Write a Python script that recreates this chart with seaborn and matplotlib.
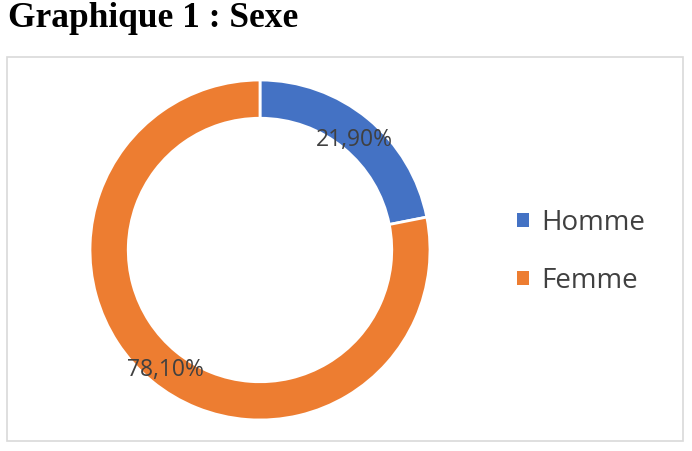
import matplotlib
matplotlib.use("Agg")
import matplotlib.pyplot as plt
import seaborn as sns
import numpy as np
from matplotlib.patches import Rectangle

categories = ["Homme", "Femme"]
values = [21.90, 78.10]
labels = ["21,90%", "78,10%"]
colors = ["#4472C4", "#ED7D31"]

sns.set_theme(style="white")
plt.rcParams['font.family'] = ['Open Sans', 'DejaVu Sans']

W, H = 692, 451
fig = plt.figure(figsize=(W / 100, H / 100), dpi=100)

# chart frame
fig.add_artist(Rectangle((7 / W, 1 - 441 / H), (683 - 7) / W, (441 - 57) / H,
                         transform=fig.transFigure, fill=False,
                         edgecolor="#d9d9d9", linewidth=1.2))

fig.text(8 / W, 1 - 27 / H, "Graphique 1 : Sexe", family="Liberation Serif",
         fontweight="bold", fontsize=25.5, ha="left", va="baseline", color="black")

cx, cy, R = 260, 250, 170
ax = fig.add_axes([(cx - R) / W, (H - cy - R) / H, 2 * R / W, 2 * R / H])
wedges, _ = ax.pie(values, colors=colors, startangle=90, counterclock=False,
                   radius=1.0, wedgeprops=dict(width=0.225, edgecolor="white", linewidth=2))
cum = np.cumsum([0] + values[:-1])
for v, c, lab in zip(values, cum, labels):
    ang = np.deg2rad(90 - (c + v / 2) * 3.6)
    r = 0.875
    ax.text(r * np.cos(ang), r * np.sin(ang) - 0.03, lab, ha="center", va="center",
            fontsize=16.5, color="#404040")
ax.set_xlim(-1, 1)
ax.set_ylim(-1, 1)
ax.set_aspect("equal")
ax.axis("off")

handles = [Rectangle((0, 0), 1, 1, facecolor=col, edgecolor="none") for col in colors]
fig.legend(handles, categories, loc="center left", bbox_to_anchor=(492 / W, 1 - 252 / H),
           frameon=False, fontsize=20, labelcolor="#404040", handlelength=0.42,
           handleheight=0.42, handletextpad=0.45, labelspacing=1.08)

fig.savefig("out.png", dpi=100)
